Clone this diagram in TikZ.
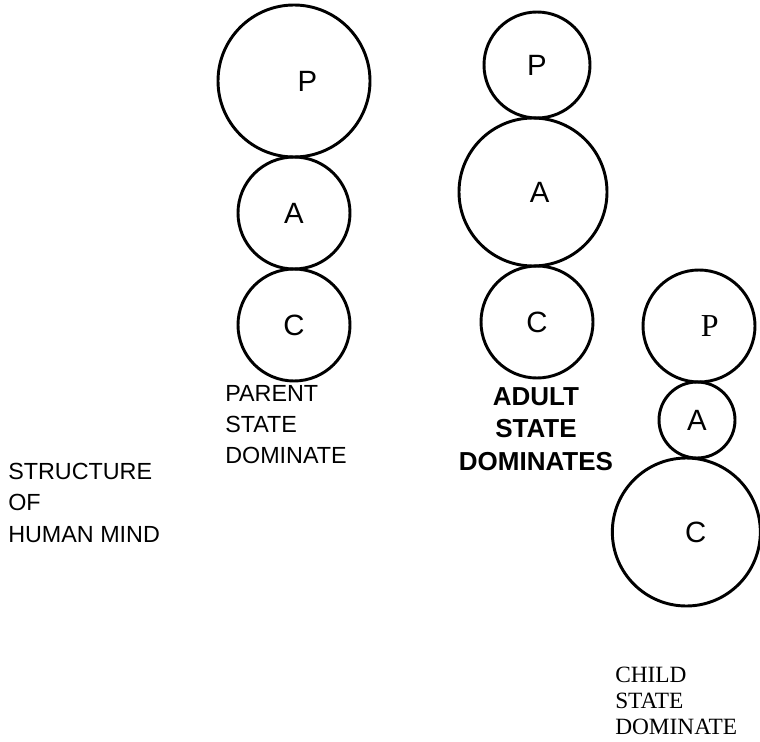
\documentclass[tikz,border=0pt]{standalone}
\usepackage{fontspec}
\setmainfont{Liberation Sans}
\newfontfamily\timesfont{Liberation Serif}
\usetikzlibrary{positioning}

\begin{document}
\begin{tikzpicture}[
    x=0.75pt, y=-0.75pt,
    egonode/.style={circle, draw=black, line width=2.2pt, inner sep=0pt, outer sep=0pt, font=\fontsize{22}{26}\selectfont},
    letter/.style={font=\fontsize{22}{26}\selectfont, inner sep=0pt},
    statetext/.style={inner sep=0pt, align=left, font=\fontsize{17.5}{23.5}\selectfont},
    adulttext/.style={inner sep=0pt, align=center, font=\fontsize{19.5}{24.5}\selectfont\bfseries},
    childtext/.style={inner sep=0pt, align=left, font=\fontsize{17.5}{19.5}\selectfont\timesfont},
    node distance=0pt,
    ]
\useasboundingbox (0,0) rectangle (760,742);

%Nodes
\node[egonode, minimum size=114pt, label={[letter, xshift=10pt]center:P}] (P1) at (294,81) {};
\node[egonode, minimum size=84pt]  (A1) [below=of P1] {A};
\node[egonode, minimum size=84pt]  (C1) [below=of A1] {C};

\node[egonode, minimum size=79.5pt] (P2) at (537,65) {P};
\node[egonode, minimum size=111pt, label={[letter, xshift=5pt]center:A}] (A2) [below=of P2, xshift=-3pt] {};
\node[egonode, minimum size=84pt]  (C2) [below=of A2, xshift=3pt] {C};

\node[egonode, minimum size=84pt, label={[letter, font=\fontsize{24}{28}\selectfont\timesfont, xshift=8pt]center:P}] (P3) at (699,326) {};
\node[egonode, minimum size=57pt]  (A3) [below=of P3, xshift=-1.5pt] {A};
\node[egonode, minimum size=111pt, label={[letter, xshift=7pt]center:C}] (C3) [below=of A3, xshift=-8pt] {};

%Texts
\node[statetext, anchor=north west] (parent) at (225,385) {PARENT\\STATE\\DOMINATE};
\node[adulttext, anchor=north] (adult) at (536,387) {ADULT\\STATE\\DOMINATES};
\node[statetext, anchor=north west] (mind) at (8,463) {STRUCTURE\\OF\\HUMAN MIND};
\node[childtext, anchor=north west] (child) at (615,667) {CHILD\\STATE\\DOMINATE};
\end{tikzpicture}
\end{document}
